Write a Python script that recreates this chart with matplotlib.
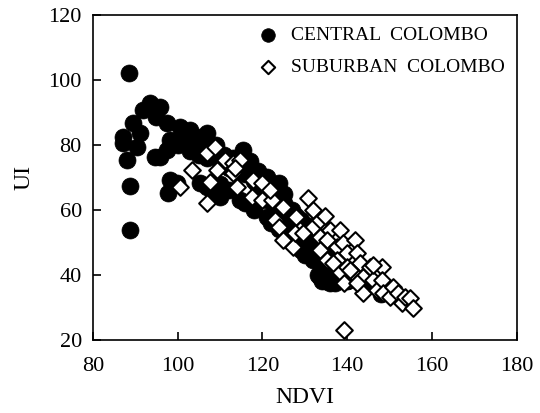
import matplotlib
matplotlib.use('Agg')
import matplotlib.pyplot as plt
import numpy as np

# central colombo (filled circles)
central_ndvi = [88.5, 88.7, 88.7, 88.0, 87.0, 89.4, 91.0, 90.4, 87.0, 91.8,
                93.4, 95.8, 95.0, 97.5, 94.6, 98.2, 100.5, 102.9, 97.5, 98.2,
                97.7, 99.8, 104.5, 102.9, 106.9, 106.0, 105.2, 108.3, 95.8, 110.0,
                107.0, 115.4, 124.0, 133.5, 136.0,
                100, 101, 102, 103, 104, 105, 106, 107, 108, 109,
                110, 111, 112, 113, 114, 115, 116, 117, 118, 119,
                120, 121, 122, 123, 124, 125, 126, 127, 128, 129,
                130, 131, 132, 133, 134, 135, 136, 137, 138, 139, 140,
                110, 112, 114.8, 116, 118, 121, 122, 124, 126, 129, 130, 132,
                115, 117, 119, 121, 123, 125, 127, 129, 131,
                133, 135, 136, 134, 137, 142, 145, 148]
central_ui = [102.2, 53.8, 67.4, 75.4, 82.5, 86.8, 83.7, 79.4, 80.6, 90.8,
              92.9, 91.7, 88.6, 86.8, 76.3, 81.5, 85.5, 84.6, 78.5, 69.2,
              65.2, 68.3, 82.5, 79.4, 83.7, 78.5, 68.3, 65.2, 76.3, 64.0,
              67.0, 78.5, 68.3, 39.4, 37.5,
              80, 83, 81, 78, 80, 77, 79, 76, 78, 80,
              75, 77, 73, 76, 72, 74, 71, 73, 69, 67,
              65, 63, 66, 61, 59, 62, 57, 55, 58, 52,
              50, 53, 48, 46, 44, 47, 42, 40, 43, 41, 38,
              68, 66, 63, 62, 60, 57.9, 56, 54, 51.7, 47.7, 46, 44.6,
              76, 75, 72, 70, 68, 65, 60, 57, 55,
              40, 38, 39, 38, 37.5, 40, 37, 34]

# suburban colombo (open diamonds)
suburban_ndvi = [139.2, 100.5, 107.0, 103.3, 107.0, 108.8, 109.2, 107.6, 111.2, 113.0,
                 114.0, 113.0, 117.5, 117.7, 119.9, 119.9, 122.2, 122.9, 124.8, 124.0,
                 127.2, 128.0, 128.8, 130.7, 131.9, 131.9, 133.5, 134.7, 133.5, 135.9,
                 135.2, 138.3, 137.5, 139.0, 139.9, 133.5, 135.2, 137.5, 138.3, 139.9,
                 140.6, 141.8, 142.3, 143.0, 141.3, 143.7, 143.7, 145.3, 146.0, 147.0,
                 148.2, 148.2, 148.4, 150.0, 150.8, 152.0, 152.9, 153.6, 154.8, 155.5,
                 146.0, 140.6, 139.2, 142.3, 124.8, 127.6, 129.5, 136.6, 121.8, 114.8,
                 113.5]
suburban_ui = [23.1, 67.0, 62.2, 72.3, 77.5, 79.5, 72.3, 68.6, 75.4, 74.4,
               67.0, 71.3, 64.0, 69.2, 68.3, 63.0, 63.0, 57.0, 61.0, 54.8,
               48.6, 57.9, 53.8, 63.6, 60.0, 54.8, 57.0, 58.0, 51.7, 53.8,
               50.8, 53.8, 48.6, 49.7, 46.6, 47.7, 44.6, 44.6, 41.0, 42.5,
               38.5, 50.8, 46.6, 43.6, 40.6, 39.4, 34.4, 42.5, 38.5, 35.4,
               42.5, 38.5, 34.4, 33.3, 36.3, 34.4, 31.3, 33.3, 32.8, 29.8,
               43.0, 41.5, 37.5, 37.5, 50.8, 52.8, 52.8, 43.6, 66.0, 75.4,
               73.0]

x_ticks = [80, 100, 120, 140, 160, 180]
y_ticks = [20, 40, 60, 80, 100, 120]

plt.rcParams['font.family'] = ['Liberation Serif', 'DejaVu Serif']

fig = plt.figure(figsize=(5.4, 4.13), dpi=100)
ax = fig.add_axes([0.172, 0.177, 0.785, 0.787])

ax.scatter(central_ndvi, central_ui, s=150, marker='o', c='black',
           edgecolors='black', linewidths=0.5, label='CENTRAL  COLOMBO', zorder=2)
ax.scatter(suburban_ndvi, suburban_ui, s=72, marker='D', c='white',
           edgecolors='black', linewidths=1.5, label='SUBURBAN  COLOMBO', zorder=3)

ax.set_xlim(80, 180)
ax.set_ylim(20, 120)
ax.set_xticks(x_ticks)
ax.set_yticks(y_ticks)
ax.tick_params(direction='in', length=6, width=1.2, labelsize=16,
               top=False, right=False)
ax.tick_params(axis='x', pad=12)
ax.tick_params(axis='y', pad=8)
for sp in ax.spines.values():
    sp.set_linewidth(1.2)

ax.set_xlabel('NDVI', fontsize=17, labelpad=8)
ax.set_ylabel('UI', fontsize=17, labelpad=10)

leg = ax.legend(loc='upper right', frameon=False, fontsize=14, handletextpad=0.2,
                labelspacing=0.75, borderaxespad=0.2, markerscale=0.8,
                scatterpoints=1)

plt.savefig('out.png', dpi=100)
